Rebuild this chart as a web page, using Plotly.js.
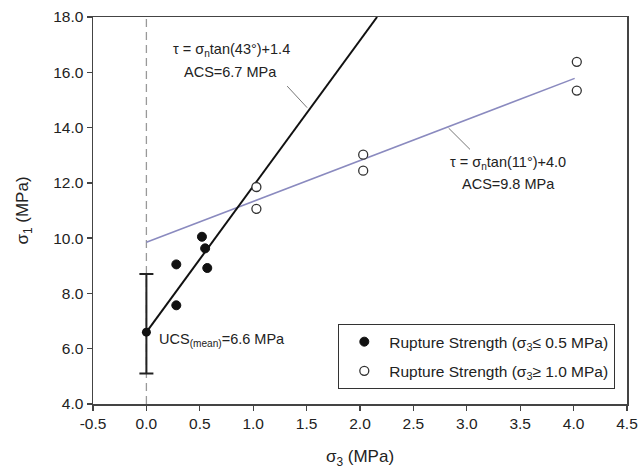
<!DOCTYPE html>
<html>
<head>
<meta charset="utf-8">
<script src="https://cdn.plot.ly/plotly-3.0.1.min.js"></script>
<style>html,body{margin:0;padding:0;background:#fff;}#chart{width:639px;height:469px;}</style>
</head>
<body>
<div id="chart"></div>
<script>
// Data
const ucsX = [0.0];
const ucsY = [6.6];
const ucsErrPlus = [2.1];
const ucsErrMinus = [1.5];

const lowX = [0.28, 0.28, 0.52, 0.55, 0.57];
const lowY = [9.05, 7.57, 10.05, 9.63, 8.92];

const highX = [1.03, 1.03, 2.03, 2.03, 4.03, 4.03];
const highY = [11.85, 11.06, 13.02, 12.44, 16.38, 15.34];

const steepFitX = [0.0, 2.16];
const steepFitY = [6.6, 18.0];

const shallowFitX = [0.0, 4.01];
const shallowFitY = [9.85, 15.78];

const zeroLineX = [0, 0];
const zeroLineY = [4, 18];

const xTicks = [-0.5, 0.0, 0.5, 1.0, 1.5, 2.0, 2.5, 3.0, 3.5, 4.0, 4.5];
const xTickText = ['-0.5', '0.0', '0.5', '1.0', '1.5', '2.0', '2.5', '3.0', '3.5', '4.0', '4.5'];
const yTicks = [4, 6, 8, 10, 12, 14, 16, 18];

const font = 'Liberation Sans, Arial, sans-serif';
const ink = '#222';
const annSize = 14.5;

const traces = [
  {x: zeroLineX, y: zeroLineY, mode: 'lines', line: {color: '#999', width: 1.3, dash: '8px,5px'}, showlegend: false, hoverinfo: 'skip'},
  {x: shallowFitX, y: shallowFitY, mode: 'lines', line: {color: '#8a8abf', width: 1.5}, showlegend: false},
  {x: steepFitX, y: steepFitY, mode: 'lines', line: {color: '#111', width: 2}, showlegend: false},
  {x: ucsX, y: ucsY, mode: 'markers', marker: {color: '#111', size: 9}, showlegend: false,
   error_y: {type: 'data', symmetric: false, array: ucsErrPlus, arrayminus: ucsErrMinus, color: '#222', thickness: 2, width: 7}},
  {x: lowX, y: lowY, mode: 'markers', name: 'Rupture Strength (σ<sub>3</sub>≤ 0.5 MPa)', legendgroup: 'a',
   marker: {color: '#111', size: 9, line: {color: '#111', width: 1}}},
  {x: highX, y: highY, mode: 'markers', name: 'Rupture Strength (σ<sub>3</sub>≥ 1.0 MPa)', legendgroup: 'b',
   marker: {color: '#fff', size: 9, line: {color: '#333', width: 1.3}}}
];

const layout = {
  width: 639, height: 469,
  margin: {l: 93, r: 12, t: 17, b: 65},
  paper_bgcolor: '#fff', plot_bgcolor: '#fff',
  font: {family: font, color: ink, size: 15},
  xaxis: {
    range: [-0.5, 4.5], tickvals: xTicks, ticktext: xTickText,
    showgrid: false, zeroline: false, showline: true, linecolor: '#444', linewidth: 1.5, mirror: true,
    ticks: 'outside', ticklen: 5, tickwidth: 1.3, tickcolor: '#444',
    tickfont: {size: 15.5, family: font, color: ink},
    title: {text: 'σ<sub>3</sub> (MPa)', font: {size: 17, family: font, color: ink}, standoff: 22}
  },
  yaxis: {
    range: [4, 18], tickvals: yTicks, tickformat: '.1f',
    showgrid: false, zeroline: false, showline: true, linecolor: '#444', linewidth: 1.5, mirror: true,
    ticks: 'outside', ticklen: 5, tickwidth: 1.3, tickcolor: '#444',
    tickfont: {size: 15.5, family: font, color: ink},
    title: {text: 'σ<sub>1</sub> (MPa)', font: {size: 17, family: font, color: ink}, standoff: 20}
  },
  legend: {
    x: 0.459, y: 0.207, xanchor: 'left', yanchor: 'top',
    bordercolor: '#333', borderwidth: 1.2, bgcolor: '#fff',
    font: {size: 15.5, family: font, color: ink},
    itemwidth: 40, traceorder: 'grouped', tracegroupgap: 6
  },
  shapes: [
    {type: 'line', xref: 'x', yref: 'y', x0: 1.318, y0: 15.50, x1: 1.505, y1: 14.72, line: {color: '#777', width: 1}},
    {type: 'line', xref: 'x', yref: 'y', x0: 2.83, y0: 13.98, x1: 3.03, y1: 13.21, line: {color: '#777', width: 1}}
  ],
  annotations: [
    {xref: 'paper', yref: 'paper', x: (231 - 93) / 534, y: (404 - 50) / 387, text: 'τ = σ<sub>n</sub>tan(43°)+1.4', showarrow: false, xanchor: 'center', yanchor: 'middle', font: {size: annSize, family: font, color: ink}},
    {xref: 'paper', yref: 'paper', x: (230 - 93) / 534, y: (404 - 72) / 387, text: 'ACS=6.7 MPa', showarrow: false, xanchor: 'center', yanchor: 'middle', font: {size: annSize, family: font, color: ink}},
    {xref: 'paper', yref: 'paper', x: (508 - 93) / 534, y: (404 - 163) / 387, text: 'τ = σ<sub>n</sub>tan(11°)+4.0', showarrow: false, xanchor: 'center', yanchor: 'middle', font: {size: annSize, family: font, color: ink}},
    {xref: 'paper', yref: 'paper', x: (508 - 93) / 534, y: (404 - 184) / 387, text: 'ACS=9.8 MPa', showarrow: false, xanchor: 'center', yanchor: 'middle', font: {size: annSize, family: font, color: ink}},
    {xref: 'paper', yref: 'paper', x: (157 - 93) / 534, y: (404 - 340) / 387, text: 'UCS<sub>(mean)</sub>=6.6 MPa', showarrow: false, xanchor: 'left', yanchor: 'middle', font: {size: annSize, family: font, color: ink}}
  ]
};

Plotly.newPlot('chart', traces, layout, {displayModeBar: false, staticPlot: true});
</script>
</body>
</html>
